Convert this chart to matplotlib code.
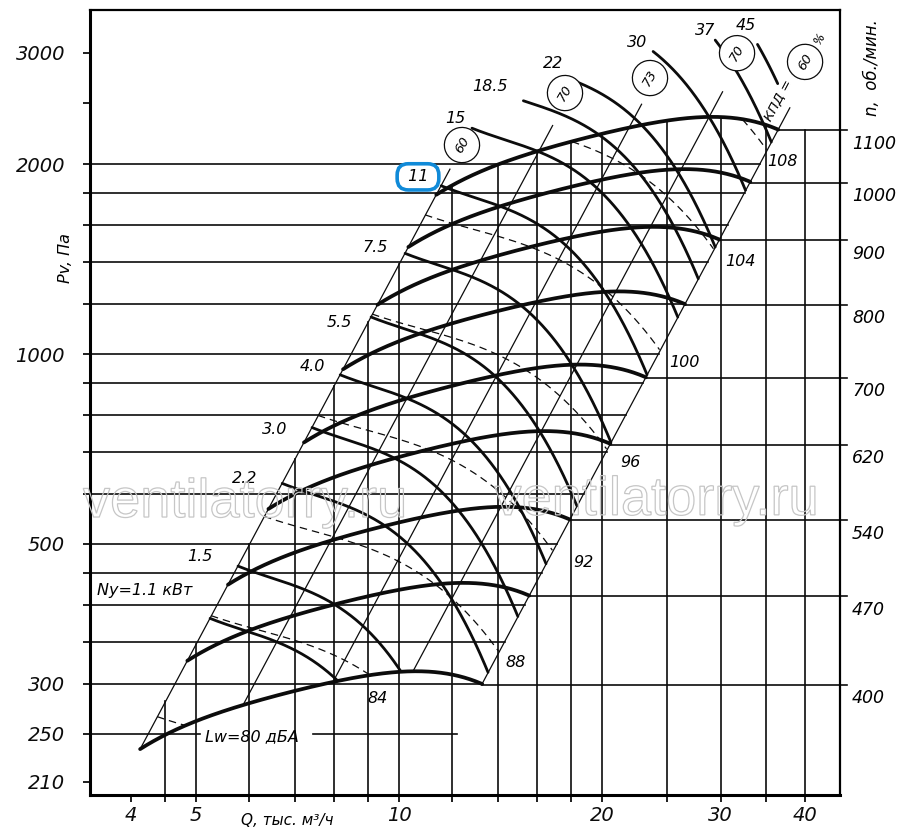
import numpy as np
import matplotlib
matplotlib.use('Agg')
import matplotlib.pyplot as plt
from matplotlib import patheffects as pe
from matplotlib.ticker import FixedLocator, FixedFormatter, NullLocator

plt.rcParams['font.family'] = ['DejaVu Sans']
plt.rcParams['font.style'] = 'italic'

# ---- values (Q in 1000 m3/h, Pv in Pa) ----
# fan characteristic at the lowest speed (400 rpm)
fan_q = [4.13, 4.48, 5.0, 6.0, 7.0, 8.0, 9.0, 10.0, 11.0, 12.0, 12.8, 13.28]
fan_p = [237, 248, 261, 281, 293, 302, 308, 313, 315, 311, 305, 299]
rpm = [400, 470, 540, 620, 700, 800, 900, 1000, 1100]

# shape of one power line (the 11 kW one), the others are the same line moved
pw_shape_q = [11.55, 12.83, 14.68, 16.18, 17.75, 19.21, 20.8, 22.01, 23.33]
pw_shape_p = [1839, 1786, 1710, 1578, 1461, 1344, 1218, 1072, 916]
pw_kw = ['1.1', '1.5', '2.2', '3.0', '4.0', '5.5', '7.5', '11', '15', '18.5', '22', '30', '37', '45']
pw_anchor = [5.245, 5.77, 6.71, 7.43, 8.18, 9.09, 10.21, 11.55, 12.83, 13.76, 14.58, 16.17, 17.66, 18.75]
pw_q_from = [0, 0, 0, 0, 0, 0, 0, 0, 0, 15.28, 18.0, 23.81, 29.44, 33.98]
pw_q_to = [99, 99, 99, 99, 99, 99, 99, 99, 99, 99, 99, 99, 99, 36.5]

# noise lines (dashed), shape of the 100 dBA one
lw_shape_q = [10.93, 13.64, 16.18, 18.12, 21.05, 24.35]
lw_shape_p = [1661, 1555, 1451, 1374, 1218, 1015]
lw_db = [80, 84, 88, 92, 96, 100, 104, 108]
lw_anchor = [4.375, 5.26, 6.305, 7.58, 9.12, 10.93, 13.14, 15.75]

# efficiency lines (P ~ Q^2)
eff_pct = ['60', '70', '73', '70', '60']
eff_q_low = [4.13, 5.87, 7.98, 10.49, 13.28]
eff_q_high = [11.9, 16.9, 22.9, 30.2, 38.0]

# grid
pv_lines = [2000, 1800, 1600, 1400, 1200, 1000, 900, 800, 700, 600, 500, 450, 400, 350, 300]
pv_ticks = [3000, 2500] + pv_lines + [250, 210]
pv_labeled = [3000, 2000, 1000, 500, 300, 250, 210]
q_ticks = [4, 4.5, 5, 6, 7, 8, 9, 10, 12, 14, 16, 18, 20, 25, 30, 35, 40]
q_labeled = [4, 5, 10, 20, 30, 40]

K = '#0c0c0c'


def curve(q, p, deg, n=500):
    lq = np.log10(q)
    lp = np.log10(p)
    c = np.polyfit(lq, lp, deg)
    x = np.linspace(lq[0], lq[-1], n)
    return x, np.polyval(c, x)


fan_lq, fan_lp = curve(fan_q, fan_p, 4)
kmax = rpm[-1] / rpm[0]
top_lq = fan_lq + np.log10(kmax)
top_lp = fan_lp + 2 * np.log10(kmax)


def above_bottom(lq, lp):
    return lp >= np.interp(lq, fan_lq, fan_lp, left=-9, right=-9)


def below_top(lq, lp):
    return lp <= np.interp(lq, top_lq, top_lp, left=9, right=9)


def right_diag_q(p):
    return fan_q[-1] * np.sqrt(p / fan_p[-1])


fig = plt.figure(figsize=(9, 8.38), dpi=100)
ax = fig.add_axes([0.1, 0.0513, 0.8333, 0.9368])
ax.set_xscale('log')
ax.set_yscale('log')
ax.set_xlim(3.48, 45.1)
ax.set_ylim(200, 3510)
x0 = ax.get_xlim()[0]

# horizontal Pv lines up to the right edge of the field
for p in pv_lines:
    ax.plot([x0, right_diag_q(p)], [p, p], color=K, lw=1.2, zorder=2)
# leader line of the Lw=80 label
ax.plot([x0, 5.06], [250, 250], color=K, lw=1.2, zorder=2)
ax.plot([7.45, 12.2], [250, 250], color=K, lw=1.2, zorder=2)

# speed lines on the right
for n in rpm:
    k = n / rpm[0]
    pn = fan_p[-1] * k * k
    ax.plot([fan_q[-1] * k, 46.2], [pn, pn], color=K, lw=1.2, zorder=2, clip_on=False)
    ax.text(47.0, pn * 0.985, str(n), ha='left', va='top', fontsize=12.5, clip_on=False)

# vertical lines up to the top of the field
for q in q_ticks:
    if q < fan_q[0]:
        continue
    if q <= fan_q[0] * kmax:
        ptop = fan_p[0] * (q / fan_q[0]) ** 2
    elif q <= fan_q[-1] * kmax:
        ptop = 10 ** np.interp(np.log10(q), top_lq, top_lp)
    else:
        ptop = fan_p[-1] * kmax ** 2
    ax.plot([q, q], [200, ptop], color=K, lw=1.2, zorder=2)

# efficiency lines
for ql, qh in zip(eff_q_low, eff_q_high):
    pl = 10 ** np.interp(np.log10(ql), fan_lq, fan_lp)
    ax.plot([ql, qh], [pl, pl * (qh / ql) ** 2], color=K, lw=0.9, zorder=3)

# fan curves
for n in rpm:
    d = np.log10(n / rpm[0])
    ax.plot(10 ** (fan_lq + d), 10 ** (fan_lp + 2 * d), color=K, lw=2.7,
            zorder=6, solid_capstyle='round')

# power lines
pw_lq, pw_lp = curve(pw_shape_q, pw_shape_p, 3)
for qa, qf, qt in zip(pw_anchor, pw_q_from, pw_q_to):
    d = np.log10(qa / pw_shape_q[0])
    lq = pw_lq + d
    lp = pw_lp + 2 * d
    ok = above_bottom(lq, lp) & (lq >= np.log10(max(qf, qa))) & (lq <= np.log10(qt))
    ax.plot(10 ** lq[ok], 10 ** lp[ok], color=K, lw=2.0, zorder=5, solid_capstyle='round')

# noise lines
lw_lq, lw_lp = curve(lw_shape_q, lw_shape_p, 3)
for qa in lw_anchor:
    d = np.log10(qa / lw_shape_q[0])
    lq = lw_lq + d
    lp = lw_lp + 2 * d
    ok = above_bottom(lq, lp) & below_top(lq, lp)
    ax.plot(10 ** lq, np.where(ok, 10 ** lp, np.nan), color=K, lw=0.9,
            ls=(0, (6, 4)), zorder=4)

# power labels
pw_lab_q = [3.56, 5.07, 5.91, 6.55, 7.43, 8.17, 9.21, 10.67, 12.11, 13.64, 16.93, 22.56, 28.43, 32.75]
pw_lab_p = [422, 477, 634, 758, 957, 1120, 1477, 1909, 2366, 2658, 2882, 3120, 3252, 3322]
for i, (kw, q, p) in enumerate(zip(pw_kw, pw_lab_q, pw_lab_p)):
    if i == 0:
        ax.text(q, p, 'Ny=1.1 кВт', ha='left', va='center', fontsize=11.5, zorder=8)
    elif kw == '11':
        ax.text(q, p, ' 11 ', ha='center', va='center', fontsize=11.5, zorder=8,
                bbox=dict(boxstyle='round,pad=0.35,rounding_size=0.7', fc='white',
                          ec='#108ad8', lw=2.6))
    else:
        ax.text(q, p, kw, ha='center', va='center', fontsize=11.5, zorder=8)

# noise labels
lw_lab_q = [5.15, 9.31, 14.91, 18.75, 22.01, 26.55, 32.06, 37.05]
lw_lab_p = [247, 284, 324, 468, 672, 968, 1404, 2022]
for i, (db, q, p) in enumerate(zip(lw_db, lw_lab_q, lw_lab_p)):
    if i == 0:
        ax.text(q, p, 'Lw=80 дБА', ha='left', va='center', fontsize=11.5, zorder=8)
    else:
        ax.text(q, p, str(db), ha='center', va='center', fontsize=11.5, zorder=8)

# efficiency circles
eff_lab_q = [12.4, 17.63, 23.57, 31.73, 40.03]
eff_lab_p = [2144, 2592, 2738, 2998, 2904]
for pct, q, p in zip(eff_pct, eff_lab_q, eff_lab_p):
    ax.text(q, p, pct, rotation=60, ha='center', va='center', fontsize=9.5, zorder=8,
            bbox=dict(boxstyle='circle,pad=0.7', fc='white', ec=K, lw=0.9))
ax.text(42.14, 3168, '%', rotation=60, ha='center', va='center', fontsize=8.5, zorder=8)
ax.text(36.64, 2527, 'КПД =', rotation=62, ha='center', va='center', fontsize=9.5, zorder=8)

# watermark (outlined letters only)
for q, p in [(5.91, 551.6), (24.1, 556)]:
    ax.text(q, p, 'ventilatorry.ru', family='Liberation Sans', style='normal',
            fontsize=39, color='#c6c6c6', ha='center', va='baseline', zorder=9,
            clip_on=False,
            path_effects=[pe.PathPatchEffect(edgecolor='#c6c6c6', facecolor='none',
                                             linewidth=0.9)])

# axes, ticks, labels
ax.xaxis.set_major_locator(FixedLocator(q_ticks))
ax.xaxis.set_major_formatter(FixedFormatter([str(q) if q in q_labeled else '' for q in q_ticks]))
ax.xaxis.set_minor_locator(NullLocator())
ax.yaxis.set_major_locator(FixedLocator(pv_ticks))
ax.yaxis.set_major_formatter(FixedFormatter([str(p) if p in pv_labeled else '' for p in pv_ticks]))
ax.yaxis.set_minor_locator(NullLocator())
ax.tick_params(axis='both', direction='out', length=5, width=1.3, labelsize=14, colors=K)
ax.tick_params(axis='y', pad=13)
ax.tick_params(axis='x', pad=3)
for s in ['left', 'bottom']:
    ax.spines[s].set_linewidth(2.2)
for s in ['top', 'right']:
    ax.spines[s].set_linewidth(1.6)

ax.text(-0.033, 1419, 'Pv, Па', transform=ax.get_yaxis_transform(), rotation=90,
        ha='center', va='center', fontsize=11.5)
ax.text(1.043, 2840, 'n,  об./мин.', transform=ax.get_yaxis_transform(), rotation=90,
        ha='center', va='center', fontsize=12)
ax.text(6.82, -0.032, 'Q, тыс. м³/ч', transform=ax.get_xaxis_transform(),
        ha='center', va='center', fontsize=11)

fig.savefig('out.png', dpi=100)
